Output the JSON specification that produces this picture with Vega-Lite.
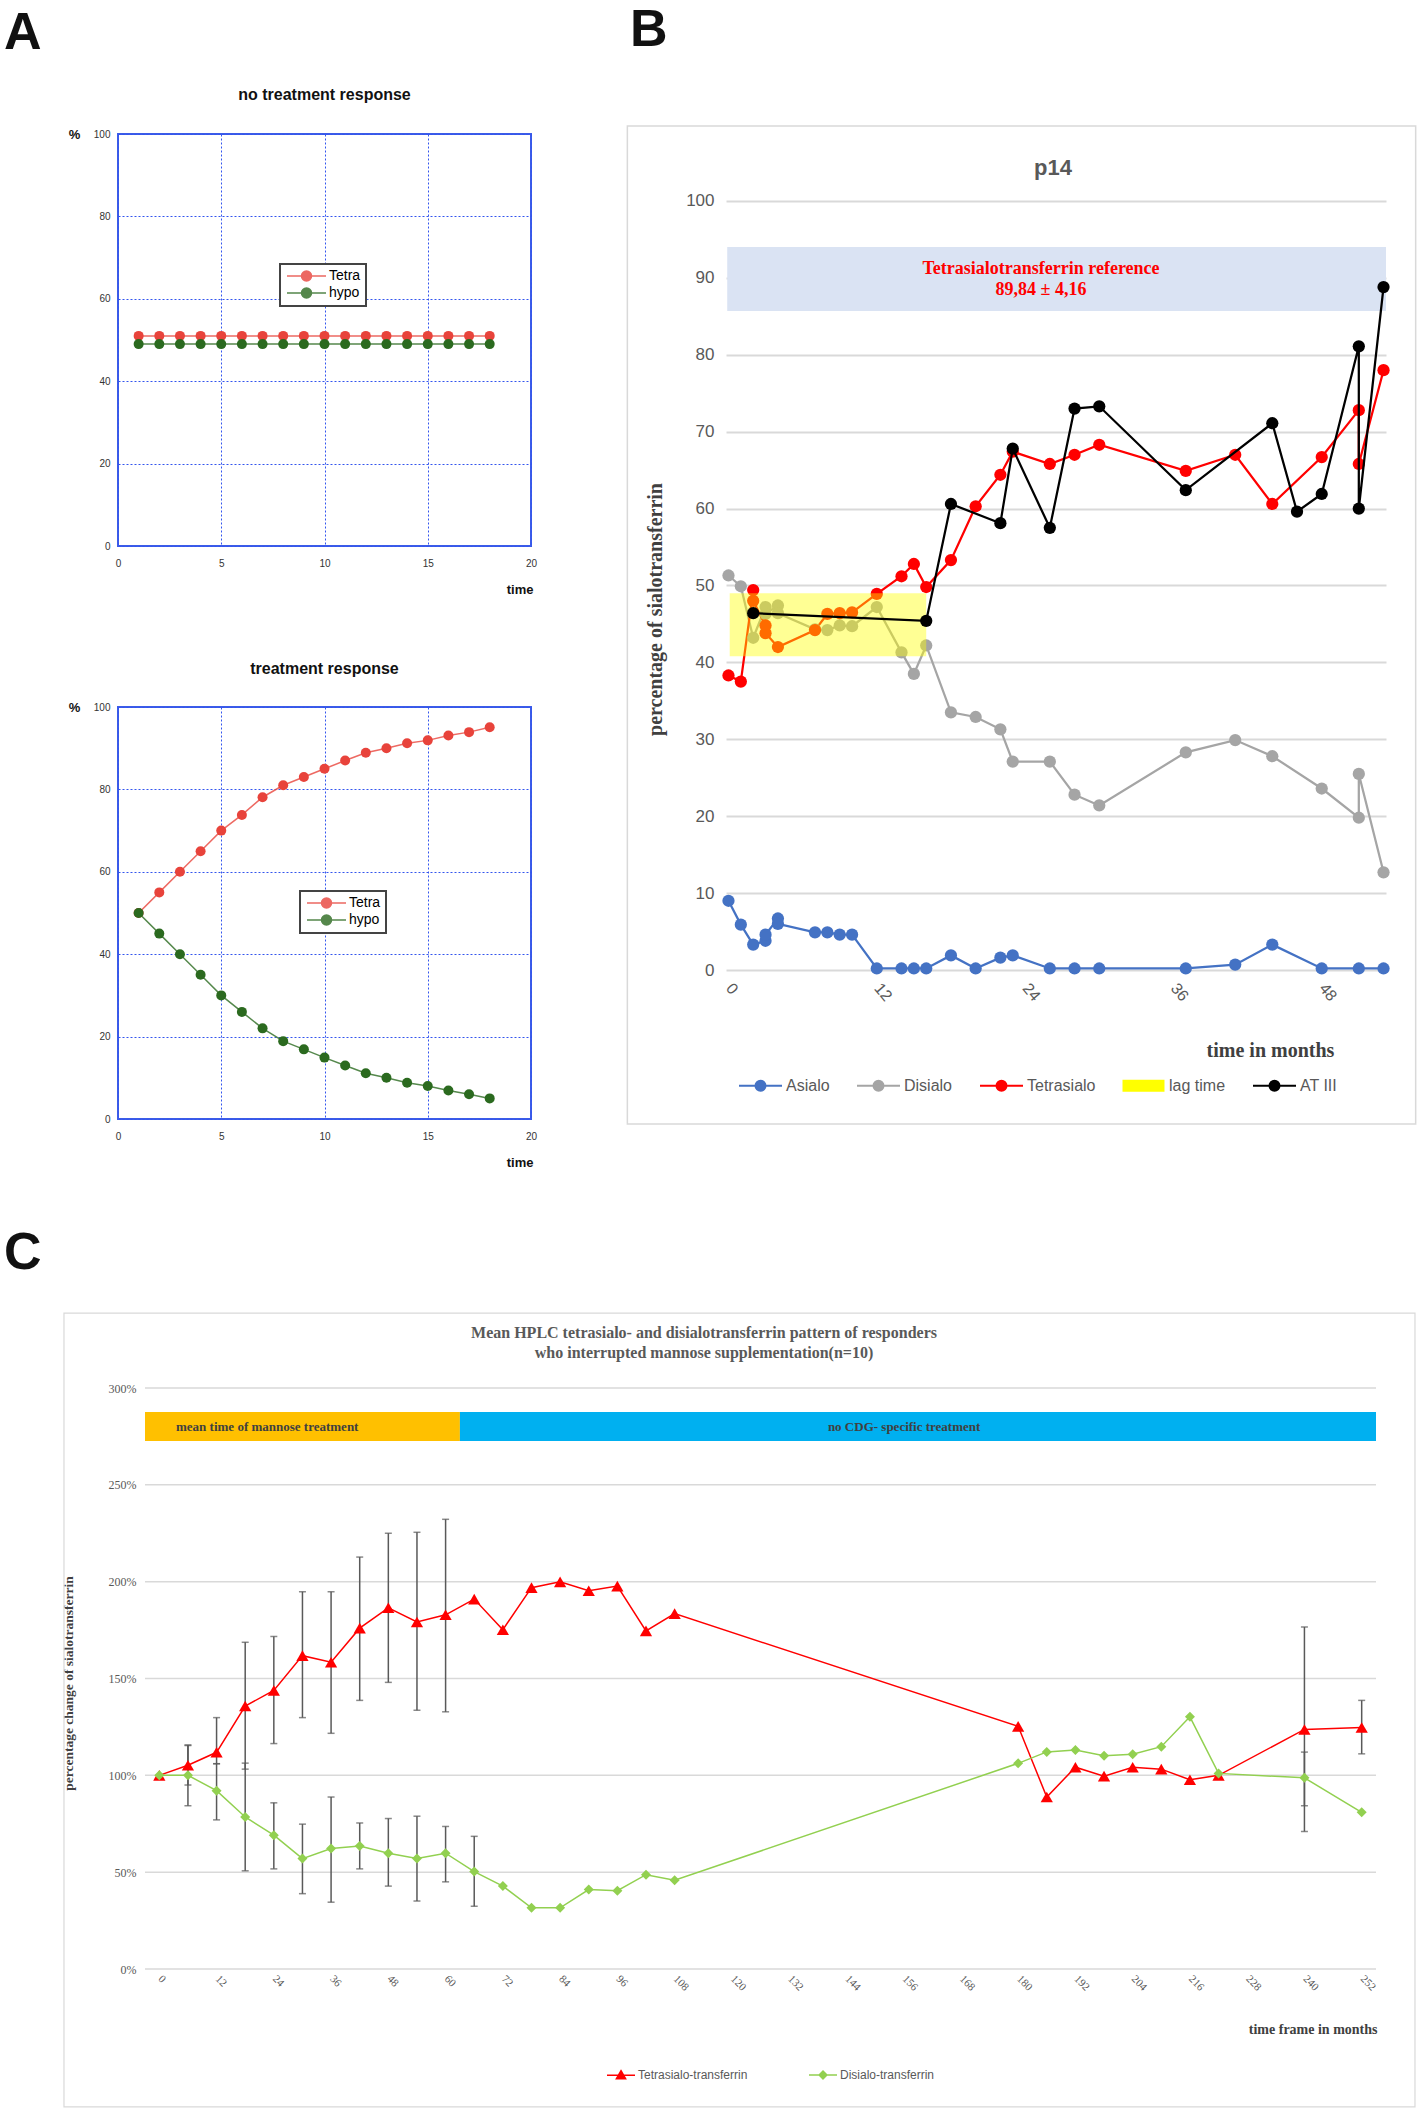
{
"$schema": "https://vega.github.io/schema/vega-lite/v6.json",
"background": "white",
"padding": {"left": 3, "top": 1, "right": 0, "bottom": 0},
"config": {"view": {"stroke": null}, "font": "Liberation Sans", "axis": {"labelFont": "Liberation Sans", "titleFont": "Liberation Sans", "labelOverlap": false}, "axisX": {"labelOverlap": false}, "axisBottom": {"labelOverlap": false}, "axisQuantitative": {"labelOverlap": false}, "legend": {"labelFont": "Liberation Sans", "strokeWidth": 2}},
"spacing": 0,
"align": "none",
"resolve": {"scale": {"x": "independent", "y": "independent", "color": "independent"}, "legend": {"color": "independent"}},
"vconcat": [
{
"spacing": 0,
"align": "none",
"resolve": {"scale": {"x": "independent", "y": "independent", "color": "independent"}, "legend": {"color": "independent"}},
"hconcat": [
{
"spacing": 0,
"align": "none",
"resolve": {"scale": {"x": "independent", "y": "independent", "color": "independent"}, "legend": {"color": "independent"}},
"vconcat": [
{
"width": 413, "height": 412,
"view": {"stroke": "#3c5ce8", "strokeWidth": 2},
"data": {"values": [
{"s":"Tetra","t":1,"v":51},{"s":"Tetra","t":2,"v":51},{"s":"Tetra","t":3,"v":51},{"s":"Tetra","t":4,"v":51},{"s":"Tetra","t":5,"v":51},{"s":"Tetra","t":6,"v":51},{"s":"Tetra","t":7,"v":51},{"s":"Tetra","t":8,"v":51},{"s":"Tetra","t":9,"v":51},{"s":"Tetra","t":10,"v":51},{"s":"Tetra","t":11,"v":51},{"s":"Tetra","t":12,"v":51},{"s":"Tetra","t":13,"v":51},{"s":"Tetra","t":14,"v":51},{"s":"Tetra","t":15,"v":51},{"s":"Tetra","t":16,"v":51},{"s":"Tetra","t":17,"v":51},{"s":"Tetra","t":18,"v":51},
{"s":"hypo","t":1,"v":49},{"s":"hypo","t":2,"v":49},{"s":"hypo","t":3,"v":49},{"s":"hypo","t":4,"v":49},{"s":"hypo","t":5,"v":49},{"s":"hypo","t":6,"v":49},{"s":"hypo","t":7,"v":49},{"s":"hypo","t":8,"v":49},{"s":"hypo","t":9,"v":49},{"s":"hypo","t":10,"v":49},{"s":"hypo","t":11,"v":49},{"s":"hypo","t":12,"v":49},{"s":"hypo","t":13,"v":49},{"s":"hypo","t":14,"v":49},{"s":"hypo","t":15,"v":49},{"s":"hypo","t":16,"v":49},{"s":"hypo","t":17,"v":49},{"s":"hypo","t":18,"v":49}
]},
"layer": [
{"mark": {"type": "line", "strokeWidth": 1.5, "opacity": 0.8},
 "encoding": {
  "x": {"field": "t", "type": "quantitative", "scale": {"domain": [0, 20], "nice": false, "zero": false},
   "axis": {"values": [0,5,10,15,20], "grid": true, "gridColor": "#3355ee", "gridDash": [2,2], "gridWidth": 1, "domain": false, "ticks": false, "labelFontSize": 10, "labelColor": "#333333", "labelPadding": 12, "labelFlush": false, "labelOverlap": false, "title": "time", "titleFontSize": 13, "titleFontWeight": "bold", "titleColor": "#111111", "titleX": 415, "titleY": 43, "titleAlign": "right", "titleBaseline": "middle"}},
  "y": {"field": "v", "type": "quantitative", "scale": {"domain": [0, 100], "nice": false, "zero": false},
   "axis": {"values": [0,20,40,60,80,100], "grid": true, "gridColor": "#3355ee", "gridDash": [2,2], "gridWidth": 1, "domain": false, "ticks": false, "labelFontSize": 10, "labelColor": "#333333", "labelPadding": 8, "labelFlush": false, "labelOverlap": false, "title": "%", "titleAngle": 0, "titleFontSize": 13, "titleFontWeight": "bold", "titleColor": "#111111", "titleX": -44, "titleY": 0, "titleAlign": "center", "titleBaseline": "middle"}},
  "color": {"field": "s", "type": "nominal", "scale": {"domain": ["Tetra", "hypo"], "range": ["#e8433b", "#2b6a1f"]},
   "legend": {"orient": "none", "legendX": 162, "legendY": 130, "title": null, "direction": "vertical", "padding": 5, "strokeColor": "#444444", "fillColor": "#ffffff", "symbolType": "M-1,0H6.8M3.9,0A1,1,0,1,1,1.9,0A1,1,0,1,1,3.9,0Z", "symbolSize": 100, "symbolStrokeWidth": 1.5, "labelFontSize": 14, "labelOffset": 30, "rowPadding": 1,
    "encode": {"symbols": {"update": {"fill": {"signal": "datum.value === 'Tetra' ? '#e8433b' : '#2b6a1f'"}, "stroke": {"signal": "datum.value === 'Tetra' ? '#e8433b' : '#2b6a1f'"}, "opacity": {"value": 1}}}, "labels": {"update": {"fill": {"signal": "datum.value === 'Tetra' ? '#e8433b' : '#2b6a1f'"}}}}}}
 }},
{"mark": {"type": "point", "filled": true, "size": 100, "opacity": 1},
 "encoding": {"x": {"field": "t", "type": "quantitative"}, "y": {"field": "v", "type": "quantitative"}, "color": {"field": "s", "type": "nominal"}}},
{"data": {"values": [{}]}, "mark": {"type": "rect", "fill": "transparent", "opacity": 0},
 "encoding": {"x": {"datum": -5.52, "type": "quantitative"}, "x2": {"datum": 23.39}, "y": {"datum": -18.45, "type": "quantitative"}, "y2": {"datum": 131.8}}},
{"data": {"values": [{}]}, "mark": {"type": "text", "text": "no treatment response", "fontSize": 16, "fontWeight": "bold", "color": "#111111", "align": "center", "baseline": "middle"},
 "encoding": {"x": {"datum": 10, "type": "quantitative"}, "y": {"datum": 109.47, "type": "quantitative"}}},
{"data": {"values": [{}]}, "mark": {"type": "text", "text": "A", "fontSize": 52, "fontWeight": "bold", "align": "left", "baseline": "alphabetic", "color": "#111111"},
 "encoding": {"x": {"datum": -5.52, "type": "quantitative"}, "y": {"datum": 120.6, "type": "quantitative"}}}
]
},
{
"width": 413, "height": 412,
"view": {"stroke": "#3c5ce8", "strokeWidth": 2},
"data": {"values": [
{"s":"Tetra","t":1,"v":50},{"s":"Tetra","t":2,"v":55},{"s":"Tetra","t":3,"v":60},{"s":"Tetra","t":4,"v":65},{"s":"Tetra","t":5,"v":70},{"s":"Tetra","t":6,"v":73.8},{"s":"Tetra","t":7,"v":78.1},{"s":"Tetra","t":8,"v":81},{"s":"Tetra","t":9,"v":83},{"s":"Tetra","t":10,"v":85},{"s":"Tetra","t":11,"v":87},{"s":"Tetra","t":12,"v":88.9},{"s":"Tetra","t":13,"v":90},{"s":"Tetra","t":14,"v":91.2},{"s":"Tetra","t":15,"v":91.9},{"s":"Tetra","t":16,"v":93.1},{"s":"Tetra","t":17,"v":93.9},{"s":"Tetra","t":18,"v":95.1},
{"s":"hypo","t":1,"v":50},{"s":"hypo","t":2,"v":45},{"s":"hypo","t":3,"v":40},{"s":"hypo","t":4,"v":35},{"s":"hypo","t":5,"v":30},{"s":"hypo","t":6,"v":26},{"s":"hypo","t":7,"v":22},{"s":"hypo","t":8,"v":18.9},{"s":"hypo","t":9,"v":16.9},{"s":"hypo","t":10,"v":14.9},{"s":"hypo","t":11,"v":13},{"s":"hypo","t":12,"v":11.1},{"s":"hypo","t":13,"v":10},{"s":"hypo","t":14,"v":8.8},{"s":"hypo","t":15,"v":8},{"s":"hypo","t":16,"v":6.9},{"s":"hypo","t":17,"v":6},{"s":"hypo","t":18,"v":5}
]},
"layer": [
{"mark": {"type": "line", "strokeWidth": 1.5, "opacity": 0.8},
 "encoding": {
  "x": {"field": "t", "type": "quantitative", "scale": {"domain": [0, 20], "nice": false, "zero": false},
   "axis": {"values": [0,5,10,15,20], "grid": true, "gridColor": "#3355ee", "gridDash": [2,2], "gridWidth": 1, "domain": false, "ticks": false, "labelFontSize": 10, "labelColor": "#333333", "labelPadding": 12, "labelFlush": false, "labelOverlap": false, "title": "time", "titleFontSize": 13, "titleFontWeight": "bold", "titleColor": "#111111", "titleX": 415, "titleY": 43, "titleAlign": "right", "titleBaseline": "middle"}},
  "y": {"field": "v", "type": "quantitative", "scale": {"domain": [0, 100], "nice": false, "zero": false},
   "axis": {"values": [0,20,40,60,80,100], "grid": true, "gridColor": "#3355ee", "gridDash": [2,2], "gridWidth": 1, "domain": false, "ticks": false, "labelFontSize": 10, "labelColor": "#333333", "labelPadding": 8, "labelFlush": false, "labelOverlap": false, "title": "%", "titleAngle": 0, "titleFontSize": 13, "titleFontWeight": "bold", "titleColor": "#111111", "titleX": -44, "titleY": 0, "titleAlign": "center", "titleBaseline": "middle"}},
  "color": {"field": "s", "type": "nominal", "scale": {"domain": ["Tetra", "hypo"], "range": ["#e8433b", "#2b6a1f"]},
   "legend": {"orient": "none", "legendX": 182, "legendY": 184, "title": null, "direction": "vertical", "padding": 5, "strokeColor": "#444444", "fillColor": "#ffffff", "symbolType": "M-1,0H6.8M3.9,0A1,1,0,1,1,1.9,0A1,1,0,1,1,3.9,0Z", "symbolSize": 100, "symbolStrokeWidth": 1.5, "labelFontSize": 14, "labelOffset": 30, "rowPadding": 1,
    "encode": {"symbols": {"update": {"fill": {"signal": "datum.value === 'Tetra' ? '#e8433b' : '#2b6a1f'"}, "stroke": {"signal": "datum.value === 'Tetra' ? '#e8433b' : '#2b6a1f'"}, "opacity": {"value": 1}}}, "labels": {"update": {"fill": {"signal": "datum.value === 'Tetra' ? '#e8433b' : '#2b6a1f'"}}}}}}
 }},
{"mark": {"type": "point", "filled": true, "size": 100, "opacity": 1},
 "encoding": {"x": {"field": "t", "type": "quantitative"}, "y": {"field": "v", "type": "quantitative"}, "color": {"field": "s", "type": "nominal"}}},
{"data": {"values": [{}]}, "mark": {"type": "rect", "fill": "transparent", "opacity": 0},
 "encoding": {"x": {"datum": -5.52, "type": "quantitative"}, "x2": {"datum": 23.39}, "y": {"datum": -15.05, "type": "quantitative"}, "y2": {"datum": 119.9}}},
{"data": {"values": [{}]}, "mark": {"type": "text", "text": "treatment response", "fontSize": 16, "fontWeight": "bold", "color": "#111111", "align": "center", "baseline": "middle"},
 "encoding": {"x": {"datum": 10, "type": "quantitative"}, "y": {"datum": 109.2, "type": "quantitative"}}}
]
}
]
},
{
"width": 660, "height": 836,
"layer": [
{"data": {"values": [{}]}, "mark": {"type": "rect", "fill": "transparent", "opacity": 0},
 "encoding": {
  "x": {"datum": -10.15, "type": "quantitative", "scale": {"domain": [-0.2, 53.2], "nice": false, "zero": false},
   "axis": {"values": [0,12,24,36,48], "grid": false, "domain": false, "ticks": false, "labelAngle": 50, "labelAlign": "left", "labelBaseline": "middle", "labelFontSize": 16, "labelColor": "#595959", "labelPadding": 15, "labelFlush": false, "labelOverlap": false, "title": "time in months", "titleFont": "Liberation Serif", "titleFontSize": 20, "titleFontWeight": "bold", "titleColor": "#404040", "titleX": 544, "titleY": 80, "titleAlign": "center", "titleBaseline": "middle"}},
  "x2": {"datum": 56.03},
  "y": {"datum": -27.57, "type": "quantitative", "scale": {"domain": [0, 108.71], "nice": false, "zero": false},
   "axis": {"values": [0,10,20,30,40,50,60,70,80,90,100], "grid": true, "gridColor": "#d9d9d9", "gridWidth": 2, "domain": false, "ticks": false, "labelFontSize": 17, "labelColor": "#595959", "labelPadding": 12, "labelFlush": false, "labelOverlap": false, "title": "percentage of sialotransferrin", "titleFont": "Liberation Serif", "titleFontSize": 20, "titleFontWeight": "bold", "titleColor": "#404040", "titleAngle": -90, "titleX": -71, "titleY": 475, "titleAlign": "center", "titleBaseline": "middle"}},
  "y2": {"datum": 125.75}
 }},
{"data": {"values": [{}]}, "mark": {"type": "rect", "filled": false, "stroke": "#d9d9d9", "strokeWidth": 1.5},
 "encoding": {"x": {"datum": -8.18, "type": "quantitative"}, "x2": {"datum": 55.6}, "y": {"datum": -20.03, "type": "quantitative"}, "y2": {"datum": 109.75}}},
{"data": {"values": [{}]}, "mark": {"type": "rect", "color": "#dae3f3"},
 "encoding": {"x": {"datum": -0.1, "type": "quantitative"}, "x2": {"datum": 53.2}, "y": {"datum": 85.68, "type": "quantitative"}, "y2": {"datum": 94.0}}},
{"data": {"values": [{}]}, "mark": {"type": "text", "text": "Tetrasialotransferrin reference", "font": "Liberation Serif", "fontSize": 18, "fontWeight": "bold", "color": "#ff0000", "align": "center", "baseline": "middle"},
 "encoding": {"x": {"datum": 25.29, "type": "quantitative"}, "y": {"datum": 91.16, "type": "quantitative"}}},
{"data": {"values": [{}]}, "mark": {"type": "text", "text": "89,84 ± 4,16", "font": "Liberation Serif", "fontSize": 18, "fontWeight": "bold", "color": "#ff0000", "align": "center", "baseline": "middle"},
 "encoding": {"x": {"datum": 25.29, "type": "quantitative"}, "y": {"datum": 88.4, "type": "quantitative"}}},
{"data": {"values": [{}]}, "mark": {"type": "text", "text": "p14", "fontSize": 22, "fontWeight": "bold", "color": "#595959", "align": "center", "baseline": "middle"},
 "encoding": {"x": {"datum": 26.26, "type": "quantitative"}, "y": {"datum": 104.3, "type": "quantitative"}}},
{"data": {"values": [{}]}, "mark": {"type": "text", "text": "B", "fontSize": 52, "fontWeight": "bold", "align": "left", "baseline": "alphabetic", "color": "#111111"},
 "encoding": {"x": {"datum": -7.97, "type": "quantitative"}, "y": {"datum": 120.2, "type": "quantitative"}}},
{"data": {"name": "bmain", "values": [
{"s":"Asialo","t":0,"v":9.0,"i":0},{"s":"Asialo","t":1,"v":5.9,"i":1},{"s":"Asialo","t":2,"v":3.3,"i":2},{"s":"Asialo","t":3,"v":3.8,"i":3},{"s":"Asialo","t":3,"v":4.6,"i":4},{"s":"Asialo","t":4,"v":6.7,"i":5},{"s":"Asialo","t":4,"v":6.0,"i":6},{"s":"Asialo","t":7,"v":4.9,"i":7},{"s":"Asialo","t":8,"v":4.9,"i":8},{"s":"Asialo","t":9,"v":4.6,"i":9},{"s":"Asialo","t":10,"v":4.6,"i":10},{"s":"Asialo","t":12,"v":0.2,"i":11},{"s":"Asialo","t":14,"v":0.2,"i":12},{"s":"Asialo","t":15,"v":0.2,"i":13},{"s":"Asialo","t":16,"v":0.2,"i":14},{"s":"Asialo","t":18,"v":1.9,"i":15},{"s":"Asialo","t":20,"v":0.2,"i":16},{"s":"Asialo","t":22,"v":1.6,"i":17},{"s":"Asialo","t":23,"v":1.9,"i":18},{"s":"Asialo","t":26,"v":0.2,"i":19},{"s":"Asialo","t":28,"v":0.2,"i":20},{"s":"Asialo","t":30,"v":0.2,"i":21},{"s":"Asialo","t":37,"v":0.2,"i":22},{"s":"Asialo","t":41,"v":0.7,"i":23},{"s":"Asialo","t":44,"v":3.3,"i":24},{"s":"Asialo","t":48,"v":0.2,"i":25},{"s":"Asialo","t":51,"v":0.2,"i":26},{"s":"Asialo","t":53,"v":0.2,"i":27},
{"s":"Disialo","t":0,"v":51.3,"i":28},{"s":"Disialo","t":1,"v":49.9,"i":29},{"s":"Disialo","t":2,"v":43.2,"i":30},{"s":"Disialo","t":3,"v":47.2,"i":31},{"s":"Disialo","t":3,"v":46.3,"i":32},{"s":"Disialo","t":4,"v":47.4,"i":33},{"s":"Disialo","t":4,"v":46.4,"i":34},{"s":"Disialo","t":7,"v":44.3,"i":35},{"s":"Disialo","t":8,"v":44.2,"i":36},{"s":"Disialo","t":9,"v":44.8,"i":37},{"s":"Disialo","t":10,"v":44.7,"i":38},{"s":"Disialo","t":12,"v":47.2,"i":39},{"s":"Disialo","t":14,"v":41.3,"i":40},{"s":"Disialo","t":15,"v":38.5,"i":41},{"s":"Disialo","t":16,"v":42.2,"i":42},{"s":"Disialo","t":18,"v":33.5,"i":43},{"s":"Disialo","t":20,"v":32.9,"i":44},{"s":"Disialo","t":22,"v":31.3,"i":45},{"s":"Disialo","t":23,"v":27.1,"i":46},{"s":"Disialo","t":26,"v":27.1,"i":47},{"s":"Disialo","t":28,"v":22.8,"i":48},{"s":"Disialo","t":30,"v":21.4,"i":49},{"s":"Disialo","t":37,"v":28.3,"i":50},{"s":"Disialo","t":41,"v":29.9,"i":51},{"s":"Disialo","t":44,"v":27.8,"i":52},{"s":"Disialo","t":48,"v":23.6,"i":53},{"s":"Disialo","t":51,"v":19.8,"i":54},{"s":"Disialo","t":51,"v":25.5,"i":55},{"s":"Disialo","t":53,"v":12.7,"i":56},
{"s":"Tetrasialo","t":0,"v":38.3,"i":57},{"s":"Tetrasialo","t":1,"v":37.5,"i":58},{"s":"Tetrasialo","t":2,"v":49.4,"i":59},{"s":"Tetrasialo","t":2,"v":48.0,"i":60},{"s":"Tetrasialo","t":3,"v":44.8,"i":61},{"s":"Tetrasialo","t":3,"v":43.8,"i":62},{"s":"Tetrasialo","t":4,"v":42.0,"i":63},{"s":"Tetrasialo","t":7,"v":44.2,"i":64},{"s":"Tetrasialo","t":8,"v":46.3,"i":65},{"s":"Tetrasialo","t":9,"v":46.4,"i":66},{"s":"Tetrasialo","t":10,"v":46.5,"i":67},{"s":"Tetrasialo","t":12,"v":48.9,"i":68},{"s":"Tetrasialo","t":14,"v":51.2,"i":69},{"s":"Tetrasialo","t":15,"v":52.8,"i":70},{"s":"Tetrasialo","t":16,"v":49.8,"i":71},{"s":"Tetrasialo","t":18,"v":53.3,"i":72},{"s":"Tetrasialo","t":20,"v":60.3,"i":73},{"s":"Tetrasialo","t":22,"v":64.4,"i":74},{"s":"Tetrasialo","t":23,"v":67.4,"i":75},{"s":"Tetrasialo","t":26,"v":65.8,"i":76},{"s":"Tetrasialo","t":28,"v":67.0,"i":77},{"s":"Tetrasialo","t":30,"v":68.3,"i":78},{"s":"Tetrasialo","t":37,"v":64.9,"i":79},{"s":"Tetrasialo","t":41,"v":67.0,"i":80},{"s":"Tetrasialo","t":44,"v":60.6,"i":81},{"s":"Tetrasialo","t":48,"v":66.7,"i":82},{"s":"Tetrasialo","t":51,"v":72.8,"i":83},{"s":"Tetrasialo","t":51,"v":65.8,"i":84},{"s":"Tetrasialo","t":53,"v":78.0,"i":85},
{"s":"AT III","t":2,"v":46.4,"i":86},{"s":"AT III","t":16,"v":45.4,"i":87},{"s":"AT III","t":18,"v":60.6,"i":88},{"s":"AT III","t":22,"v":58.1,"i":89},{"s":"AT III","t":23,"v":67.8,"i":90},{"s":"AT III","t":26,"v":57.5,"i":91},{"s":"AT III","t":28,"v":73.0,"i":92},{"s":"AT III","t":30,"v":73.3,"i":93},{"s":"AT III","t":37,"v":62.4,"i":94},{"s":"AT III","t":44,"v":71.1,"i":95},{"s":"AT III","t":46,"v":59.6,"i":96},{"s":"AT III","t":48,"v":61.9,"i":97},{"s":"AT III","t":51,"v":81.1,"i":98},{"s":"AT III","t":51,"v":60.0,"i":99},{"s":"AT III","t":53,"v":88.8,"i":100}
]},
 "transform": [{"filter": "datum.s !== 'AT III'"}],
 "mark": {"type": "line", "strokeWidth": 2.25},
 "encoding": {
  "x": {"field": "t", "type": "quantitative"},
  "y": {"field": "v", "type": "quantitative"},
  "order": {"field": "i", "type": "quantitative"},
  "color": {"field": "s", "type": "nominal", "scale": {"domain": ["Asialo", "Disialo", "Tetrasialo", "lag time", "AT III"], "range": ["#4472c4", "#a5a5a5", "#ff0000", "#ffff00", "#000000"]},
   "legend": {"orient": "none", "legendX": 12, "legendY": 929, "direction": "horizontal", "columns": 5, "title": null, "symbolType": "M-1,0H1M0.233,0A0.233,0.233,0,1,1,-0.233,0A0.233,0.233,0,1,1,0.233,0Z", "symbolSize": 1849, "symbolStrokeWidth": 2, "labelFontSize": 16, "labelColor": "#595959", "labelOffset": 3, "columnPadding": 23, "labelLimit": 300,
    "encode": {"symbols": {"update": {
     "shape": {"signal": "datum.value === 'lag time' ? 'M-0.93,-0.23H0.93V0.23H-0.93Z' : 'M-1,0H1M0.233,0A0.233,0.233,0,1,1,-0.233,0A0.233,0.233,0,1,1,0.233,0Z'"},
     "fill": {"signal": "datum.value === 'Asialo' ? '#4472c4' : datum.value === 'Disialo' ? '#a5a5a5' : datum.value === 'Tetrasialo' ? '#ff0000' : datum.value === 'lag time' ? '#ffff94' : '#000000'"},
     "stroke": {"signal": "datum.value === 'Asialo' ? '#4472c4' : datum.value === 'Disialo' ? '#a5a5a5' : datum.value === 'Tetrasialo' ? '#ff0000' : datum.value === 'lag time' ? 'transparent' : '#000000'"},
     "opacity": {"value": 1}}}}}}
 }},
{"data": {"name": "bmain"},
 "transform": [{"filter": "datum.s !== 'AT III'"}],
 "mark": {"type": "point", "filled": true, "size": 150, "opacity": 1},
 "encoding": {"x": {"field": "t", "type": "quantitative"}, "y": {"field": "v", "type": "quantitative"}, "color": {"field": "s", "type": "nominal"}}},
{"data": {"values": [{"s": "lag time", "t0": 0.1, "t1": 16.0, "v0": 40.8, "v1": 49.0}]},
 "mark": {"type": "rect", "opacity": 0.42},
 "encoding": {"x": {"field": "t0", "type": "quantitative"}, "x2": {"field": "t1"}, "y": {"field": "v0", "type": "quantitative"}, "y2": {"field": "v1"}, "color": {"field": "s", "type": "nominal"}}},
{"data": {"name": "bmain"},
 "transform": [{"filter": "datum.s === 'AT III'"}],
 "mark": {"type": "line", "strokeWidth": 2.25},
 "encoding": {"x": {"field": "t", "type": "quantitative"}, "y": {"field": "v", "type": "quantitative"}, "order": {"field": "i", "type": "quantitative"}, "color": {"field": "s", "type": "nominal"}}},
{"data": {"name": "bmain"},
 "transform": [{"filter": "datum.s === 'AT III'"}],
 "mark": {"type": "point", "filled": true, "size": 150, "opacity": 1},
 "encoding": {"x": {"field": "t", "type": "quantitative"}, "y": {"field": "v", "type": "quantitative"}, "color": {"field": "s", "type": "nominal"}}}
]
}
]
},
{
"width": 1258, "height": 581,
"layer": [
{"data": {"values": [{}]}, "mark": {"type": "rect", "fill": "transparent", "opacity": 0},
 "encoding": {
  "x": {"datum": -32.55, "type": "quantitative", "scale": {"domain": [-8.659, 255], "nice": false, "zero": false},
   "axis": {"values": [0,6,12,18,24,30,36,42,48,54,60,66,72,78,84,90,96,102,108,114,120,126,132,138,144,150,156,162,168,174,180,186,192,198,204,210,216,222,228,234,240,246,252], "grid": false, "domain": false, "ticks": false, "labelAngle": 45, "labelAlign": "left", "labelBaseline": "middle", "labelFont": "Liberation Serif", "labelFontSize": 11, "labelColor": "#595959", "labelPadding": 8, "labelFlush": false, "labelOverlap": false, "labelBound": false, "labelSeparation": 0, "title": "time frame in months", "titleFont": "Liberation Serif", "titleFontSize": 14, "titleFontWeight": "bold", "titleColor": "#404040", "titleX": 1259, "titleY": 60, "titleAlign": "right", "titleBaseline": "middle"}},
  "x2": {"datum": 264.02},
  "y": {"datum": -73.84, "type": "quantitative", "scale": {"domain": [0, 300], "nice": false, "zero": false},
   "axis": {"values": [0,50,100,150,200,250,300], "labelExpr": "datum.value + '%'", "grid": false, "offset": -27, "domain": false, "ticks": false, "labelFont": "Liberation Serif", "labelFontSize": 12, "labelColor": "#595959", "labelPadding": 9, "labelFlush": false, "labelOverlap": false, "title": "percentage change of sialotransferrin", "titleFont": "Liberation Serif", "titleFontSize": 13.5, "titleFontWeight": "bold", "titleColor": "#404040", "titleAngle": -90, "titleX": -77, "titleY": 295, "titleAlign": "center", "titleBaseline": "middle"}},
  "y2": {"datum": 405.85}
 }},
{"data": {"values": [{"g": 0}, {"g": 50}, {"g": 100}, {"g": 150}, {"g": 200}, {"g": 250}, {"g": 300}]},
 "mark": {"type": "rule", "color": "#d9d9d9", "strokeWidth": 1.5},
 "encoding": {"y": {"field": "g", "type": "quantitative"}, "x": {"datum": -3, "type": "quantitative"}, "x2": {"datum": 255}}},
{"data": {"values": [{}]}, "mark": {"type": "rect", "filled": false, "stroke": "#d9d9d9", "strokeWidth": 1.2},
 "encoding": {"x": {"datum": -19.98, "type": "quantitative"}, "x2": {"datum": 263.17}, "y": {"datum": -71.2, "type": "quantitative"}, "y2": {"datum": 338.7}}},
{"data": {"values": [{}]}, "mark": {"type": "text", "text": "Mean HPLC tetrasialo- and disialotransferrin pattern of responders", "font": "Liberation Serif", "fontSize": 16, "fontWeight": "bold", "color": "#595959", "align": "center", "baseline": "middle"},
 "encoding": {"x": {"datum": 114.16, "type": "quantitative"}, "y": {"datum": 328.4, "type": "quantitative"}}},
{"data": {"values": [{}]}, "mark": {"type": "text", "text": "who interrupted mannose supplementation(n=10)", "font": "Liberation Serif", "fontSize": 16, "fontWeight": "bold", "color": "#595959", "align": "center", "baseline": "middle"},
 "encoding": {"x": {"datum": 114.16, "type": "quantitative"}, "y": {"datum": 318.07, "type": "quantitative"}}},
{"data": {"values": [{"phase": "mean time of mannose treatment", "start": -3, "end": 63}, {"phase": "no CDG- specific treatment", "start": 63, "end": 255}]},
 "mark": {"type": "rect"},
 "encoding": {"x": {"field": "start", "type": "quantitative"}, "x2": {"field": "end"}, "y": {"datum": 272.6, "type": "quantitative"}, "y2": {"datum": 287.6},
  "fill": {"field": "phase", "type": "nominal", "scale": {"domain": ["mean time of mannose treatment", "no CDG- specific treatment"], "range": ["#ffc000", "#00b0f0"]}, "legend": null}}},
{"data": {"values": [{}]}, "mark": {"type": "text", "text": "mean time of mannose treatment", "font": "Liberation Serif", "fontSize": 13, "fontWeight": "bold", "color": "#404040", "align": "left", "baseline": "middle"},
 "encoding": {"x": {"datum": 3.5, "type": "quantitative"}, "y": {"datum": 280.1, "type": "quantitative"}}},
{"data": {"values": [{}]}, "mark": {"type": "text", "text": "no CDG- specific treatment", "font": "Liberation Serif", "fontSize": 13, "fontWeight": "bold", "color": "#404040", "align": "center", "baseline": "middle"},
 "encoding": {"x": {"datum": 156.1, "type": "quantitative"}, "y": {"datum": 280.1, "type": "quantitative"}}},
{"data": {"values": [{}]}, "mark": {"type": "text", "text": "C", "fontSize": 52, "fontWeight": "bold", "align": "left", "baseline": "alphabetic", "color": "#111111"},
 "encoding": {"x": {"datum": -32.55, "type": "quantitative"}, "y": {"datum": 361.4, "type": "quantitative"}}},
{"data": {"name": "cmain", "values": [
{"s":"Tetrasialo-transferrin","m":0,"v":100},
{"s":"Tetrasialo-transferrin","m":6,"v":105.2,"lo":95,"hi":115.4},
{"s":"Tetrasialo-transferrin","m":12,"v":111.9,"lo":106,"hi":129.8},
{"s":"Tetrasialo-transferrin","m":18,"v":135.8,"lo":103.2,"hi":168.7},
{"s":"Tetrasialo-transferrin","m":24,"v":143.8,"lo":116.4,"hi":171.7},
{"s":"Tetrasialo-transferrin","m":30,"v":161.8,"lo":129.8,"hi":194.8},
{"s":"Tetrasialo-transferrin","m":36,"v":158.4,"lo":121.7,"hi":194.8},
{"s":"Tetrasialo-transferrin","m":42,"v":176.0,"lo":138.7,"hi":212.7},
{"s":"Tetrasialo-transferrin","m":48,"v":186.5,"lo":148,"hi":225},
{"s":"Tetrasialo-transferrin","m":54,"v":179.2,"lo":133.6,"hi":225.5},
{"s":"Tetrasialo-transferrin","m":60,"v":182.9,"lo":132.8,"hi":232.2},
{"s":"Tetrasialo-transferrin","m":66,"v":191.0},
{"s":"Tetrasialo-transferrin","m":72,"v":175.2},
{"s":"Tetrasialo-transferrin","m":78,"v":196.9},
{"s":"Tetrasialo-transferrin","m":84,"v":199.9},
{"s":"Tetrasialo-transferrin","m":90,"v":195.3},
{"s":"Tetrasialo-transferrin","m":96,"v":197.7},
{"s":"Tetrasialo-transferrin","m":102,"v":174.6},
{"s":"Tetrasialo-transferrin","m":108,"v":183.5},
{"s":"Tetrasialo-transferrin","m":180,"v":125.3},
{"s":"Tetrasialo-transferrin","m":186,"v":88.8},
{"s":"Tetrasialo-transferrin","m":192,"v":104.2},
{"s":"Tetrasialo-transferrin","m":198,"v":99.6},
{"s":"Tetrasialo-transferrin","m":204,"v":104.2},
{"s":"Tetrasialo-transferrin","m":210,"v":103.2},
{"s":"Tetrasialo-transferrin","m":216,"v":97.7},
{"s":"Tetrasialo-transferrin","m":222,"v":100},
{"s":"Tetrasialo-transferrin","m":240,"v":123.7,"lo":71,"hi":176.6},
{"s":"Tetrasialo-transferrin","m":252,"v":124.7,"lo":111.1,"hi":138.7},
{"s":"Disialo-transferrin","m":0,"v":100},
{"s":"Disialo-transferrin","m":6,"v":100,"lo":84.3,"hi":115.7},
{"s":"Disialo-transferrin","m":12,"v":92.1,"lo":77,"hi":106},
{"s":"Disialo-transferrin","m":18,"v":78.5,"lo":50.7,"hi":106.3},
{"s":"Disialo-transferrin","m":24,"v":69.1,"lo":51.7,"hi":85.8},
{"s":"Disialo-transferrin","m":30,"v":57.0,"lo":38.9,"hi":74.8},
{"s":"Disialo-transferrin","m":36,"v":62.2,"lo":34.5,"hi":88.8},
{"s":"Disialo-transferrin","m":42,"v":63.5,"lo":51.7,"hi":75.4},
{"s":"Disialo-transferrin","m":48,"v":59.8,"lo":42.8,"hi":77.7},
{"s":"Disialo-transferrin","m":54,"v":57.0,"lo":35.1,"hi":78.9},
{"s":"Disialo-transferrin","m":60,"v":59.8,"lo":45,"hi":73.6},
{"s":"Disialo-transferrin","m":66,"v":50.3,"lo":32.4,"hi":68.5},
{"s":"Disialo-transferrin","m":72,"v":42.8},
{"s":"Disialo-transferrin","m":78,"v":31.6},
{"s":"Disialo-transferrin","m":84,"v":31.6},
{"s":"Disialo-transferrin","m":90,"v":41.0},
{"s":"Disialo-transferrin","m":96,"v":40.4},
{"s":"Disialo-transferrin","m":102,"v":48.7},
{"s":"Disialo-transferrin","m":108,"v":45.8},
{"s":"Disialo-transferrin","m":180,"v":106.2},
{"s":"Disialo-transferrin","m":186,"v":112.1},
{"s":"Disialo-transferrin","m":192,"v":113.1},
{"s":"Disialo-transferrin","m":198,"v":110.1},
{"s":"Disialo-transferrin","m":204,"v":110.9},
{"s":"Disialo-transferrin","m":210,"v":114.8},
{"s":"Disialo-transferrin","m":216,"v":130.2},
{"s":"Disialo-transferrin","m":222,"v":101},
{"s":"Disialo-transferrin","m":240,"v":98.7,"lo":84.3,"hi":112},
{"s":"Disialo-transferrin","m":252,"v":80.9}
]},
 "transform": [{"filter": "isValid(datum.lo)"}],
 "mark": {"type": "rule", "color": "#595959", "strokeWidth": 1.5},
 "encoding": {"x": {"field": "m", "type": "quantitative"}, "y": {"field": "lo", "type": "quantitative"}, "y2": {"field": "hi"}}},
{"data": {"name": "cmain"}, "transform": [{"filter": "isValid(datum.lo)"}],
 "mark": {"type": "tick", "orient": "horizontal", "color": "#595959", "size": 7, "thickness": 1.5},
 "encoding": {"x": {"field": "m", "type": "quantitative"}, "y": {"field": "lo", "type": "quantitative"}}},
{"data": {"name": "cmain"}, "transform": [{"filter": "isValid(datum.hi)"}],
 "mark": {"type": "tick", "orient": "horizontal", "color": "#595959", "size": 7, "thickness": 1.5},
 "encoding": {"x": {"field": "m", "type": "quantitative"}, "y": {"field": "hi", "type": "quantitative"}}},
{"data": {"name": "cmain"},
 "mark": {"type": "line", "strokeWidth": 1.5},
 "encoding": {"x": {"field": "m", "type": "quantitative"}, "y": {"field": "v", "type": "quantitative"},
  "color": {"field": "s", "type": "nominal", "scale": {"domain": ["Tetrasialo-transferrin", "Disialo-transferrin"], "range": ["#ff0000", "#92d050"]},
   "legend": {"orient": "none", "legendX": 488, "legendY": 672, "direction": "horizontal", "columns": 2, "title": null, "symbolType": "M-1,0H1", "symbolSize": 784, "symbolStrokeWidth": 1.5, "labelFontSize": 12, "labelColor": "#595959", "labelOffset": 2, "columnPadding": 58, "labelLimit": 300,
    "encode": {"symbols": {"update": {
     "shape": {"signal": "datum.value === 'Tetrasialo-transferrin' ? 'M-1,0H1M0,-0.32L0.33,0.26L-0.33,0.26Z' : 'M-1,0H1M0,-0.28L0.28,0L0,0.28L-0.28,0Z'"},
     "fill": {"signal": "datum.value === 'Tetrasialo-transferrin' ? '#ff0000' : '#92d050'"},
     "stroke": {"signal": "datum.value === 'Tetrasialo-transferrin' ? '#ff0000' : '#92d050'"},
     "opacity": {"value": 1}}}}}}}},
{"data": {"name": "cmain"}, "transform": [{"filter": "datum.s === 'Tetrasialo-transferrin'"}],
 "mark": {"type": "point", "shape": "triangle-up", "filled": true, "size": 150, "color": "#ff0000", "opacity": 1},
 "encoding": {"x": {"field": "m", "type": "quantitative"}, "y": {"field": "v", "type": "quantitative"}}},
{"data": {"name": "cmain"}, "transform": [{"filter": "datum.s === 'Disialo-transferrin'"}],
 "mark": {"type": "point", "shape": "diamond", "filled": true, "size": 100, "color": "#92d050", "opacity": 1},
 "encoding": {"x": {"field": "m", "type": "quantitative"}, "y": {"field": "v", "type": "quantitative"}}}
]
}
]
}
